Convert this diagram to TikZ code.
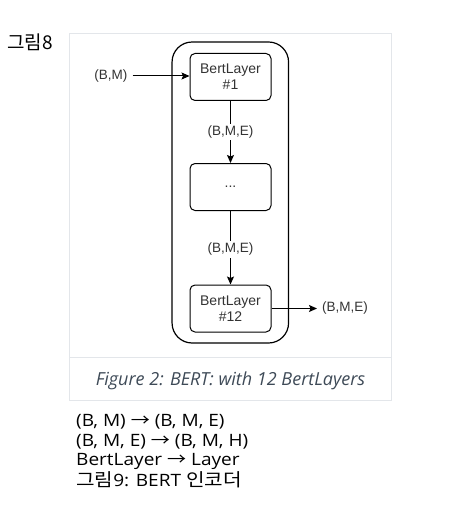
\documentclass[tikz,border=0pt]{standalone}
\usepackage{fontspec}
\usepackage{graphicx}
\setmainfont{Liberation Sans}
\newfontfamily\krfont{Noto Sans CJK KR}
\newfontfamily\capfont{Open Sans}
\usetikzlibrary{arrows.meta}
\definecolor{framegray}{HTML}{E3E6EA}
\definecolor{captxt}{HTML}{3E4A57}
\definecolor{lbltxt}{HTML}{333333}
\newcommand{\hk}[1]{{\krfont\fontsize{18}{19.33}\selectfont #1}}
\newcommand{\rarr}{{\krfont →}}
\begin{document}
\begin{tikzpicture}[x=1pt,y=-1pt,
  layer/.style={draw, line width=1pt, rounded corners=5pt, minimum width=81pt, minimum height=47pt,
    align=center, inner sep=0pt, font=\fontsize{14}{16}\selectfont, text=lbltxt},
  lbl/.style={font=\fontsize{13.5}{15}\selectfont, text=lbltxt, inner xsep=5pt, inner ysep=2pt},
  arr/.style={line width=1pt, -{Stealth[length=8pt,width=7pt,inset=1.5pt]}},
  kr/.style={font=\capfont\fontsize{17}{19.33}\selectfont, anchor=north west, inner sep=0pt}]
\useasboundingbox (0,0) rectangle (455,513);
% outer frame
\node[draw=framegray, line width=1pt, minimum width=322pt, minimum height=366.5pt, inner sep=0pt] (frame) at (230.5,217.25) {};
\coordinate (sepL) at (69.5,357.7);
\coordinate (sepR) at (391.5,357.7);
\draw[framegray, line width=1pt] (sepL) -- (sepR);
\node[font=\capfont\itshape\fontsize{18}{20}\selectfont, text=captxt] (cap) at (230.5,381) {Figure 2: BERT: with 12 BertLayers};
% container
\node[draw, line width=1.2pt, rounded corners=20pt, minimum width=116.5pt, minimum height=301pt, inner sep=0pt] (stack) at (230.3,192.5) {};
% layers
\node[layer] (l1) at (230.5,77) {BertLayer\\\#1};
\node[layer] (dots) at (230.5,187) {...};
\node[layer] (l12) at (230.5,308.5) {BertLayer\\\#12};
% connectors
\node[lbl, anchor=east] (in) at (132.5,76) {(B,M)};
\draw[arr] (in.east) -- (in.east -| l1.west);
\draw[arr] (l1) -- node[lbl, fill=white] {(B,M,E)} (dots);
\draw[arr] (dots) -- node[lbl, fill=white, pos=0.52] {(B,M,E)} (l12);
\node[lbl, anchor=west] (out) at (317,308.5) {(B,M,E)};
\draw[arr] (l12.east) -- (out.west);
% texts
\node[anchor=north west, inner sep=0pt, font=\krfont\fontsize{19}{21}\selectfont] (fig8) at (7,34) {그림8};
\node[kr] (notes) at (76,413) {\scalebox{1.12}[1]{\begin{tabular}{@{}l@{}}(B, M) \rarr{} (B, M, E)\\(B, M, E) \rarr{} (B, M, H)\\BertLayer \rarr{} Layer\\\hk{그림}9: BERT \hk{인코더}\end{tabular}}};
\end{tikzpicture}
\end{document}
